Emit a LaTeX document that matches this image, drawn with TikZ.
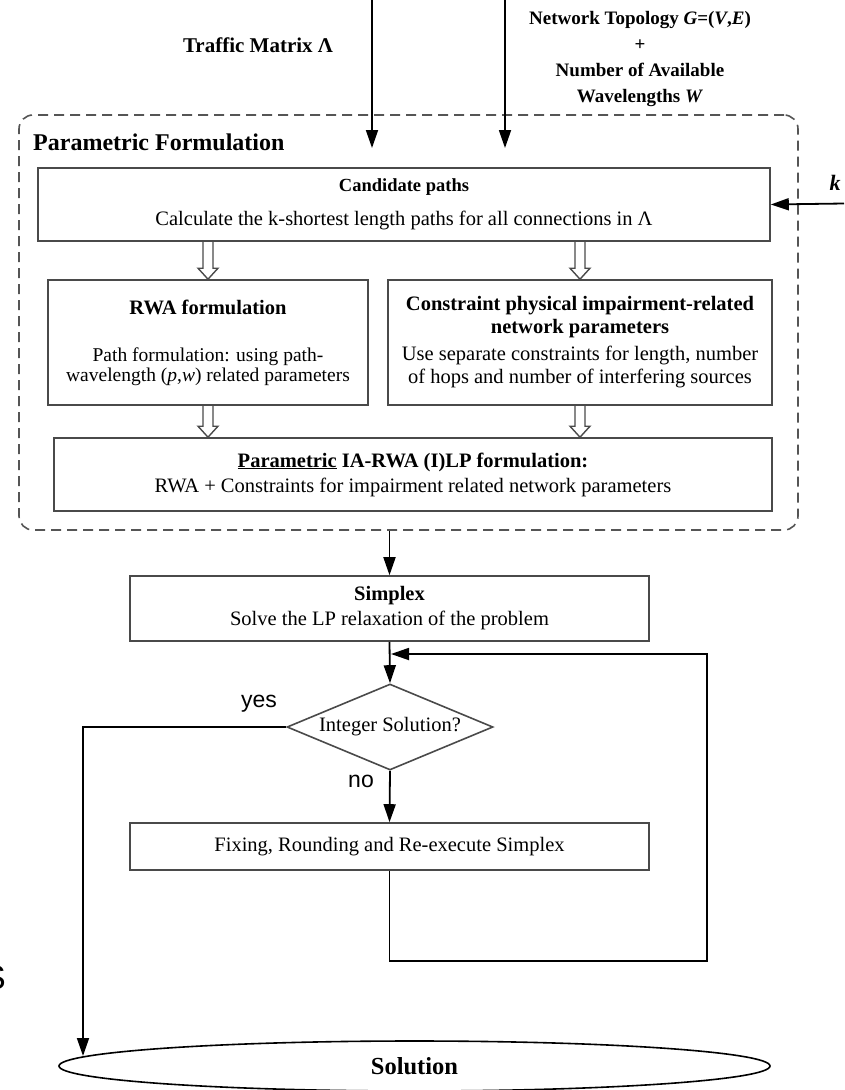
\documentclass[tikz,border=0pt]{standalone}
\usepackage{fontspec}
\setmainfont{Liberation Serif}
\newfontfamily\sansf{Liberation Sans}
\usetikzlibrary{arrows.meta,shapes.geometric,calc}
\definecolor{boxgray}{HTML}{4A4A4A}
\definecolor{dashgray}{HTML}{555555}
\begin{document}
\begin{tikzpicture}[x=1pt,y=-1pt,
  box/.style={draw=boxgray, line width=1.6pt, inner sep=0pt, align=center,
    font=\fontsize{20.5}{23}\selectfont},
  arr/.style={draw=black, line width=1.8pt, -{Triangle[length=18pt,width=12pt]}},
  hollow/.style={draw=boxgray, line width=1.4pt,
    to path={let \p1=(\tikztostart), \p2=(\tikztotarget) in
      (\x1-5pt,\y1) -- (\x1-5pt,\y2+11pt) -- (\x1-10pt,\y2+11pt) -- (\x1,\y2)
      -- (\x1+10pt,\y2+11pt) -- (\x1+5pt,\y2+11pt) -- (\x1+5pt,\y1)}},
  txt/.style={inner sep=0pt, align=center},
  lbl/.style={inner sep=0pt, font=\sansf\fontsize{23}{25}\selectfont}
]
\useasboundingbox (0,0) rectangle (844,1090);

% top inputs
\node[txt, font=\bfseries\fontsize{21}{23}\selectfont] (traffic) at (258,45) {Traffic Matrix Λ};
\node[txt, font=\bfseries\fontsize{19}{26}\selectfont] (net) at (640,59)
  {Network Topology \textit{G}=(\textit{V},\textit{E})\\+\\Number of Available\\Wavelengths \textit{W}};
\coordinate (t1a) at (372,0);
\coordinate (t1b) at (372,148);
\coordinate (t2a) at (505,0);
\coordinate (t2b) at (505,148);

% dashed frame
\node[draw=dashgray, line width=1.6pt, dash pattern=on 10pt off 6pt, rounded corners=14pt,
  minimum width=779pt, minimum height=415pt, inner sep=0pt] (pf) at (408.5,322.5) {};
\node[txt, anchor=west, font=\bfseries\fontsize{24}{26}\selectfont] (pftitle) at (33,142) {Parametric Formulation};

% boxes inside frame
\node[box, minimum width=732pt, minimum height=73pt] (cand) at (404,204.5)
  {\textbf{\fontsize{18.5}{22}\selectfont Candidate paths}\\[11pt]Calculate the k-shortest length paths for all connections in Λ};
\node[box, minimum width=320pt, minimum height=125pt] (rwa) at (208,342.5)
  {\textbf{RWA formulation}\\[24pt]{\fontsize{19.5}{20}\selectfont Path formulation: using path-}\\[-3pt]{\fontsize{19.5}{20}\selectfont wavelength (\textit{p},\textit{w}) related parameters}};
\node[box, minimum width=384pt, minimum height=125pt] (cons) at (580,342.5)
  {\textbf{Constraint physical impairment-related}\\\textbf{network parameters}\\[4pt]Use separate constraints for length, number\\of hops and number of interfering sources};
\node[box, minimum width=718pt, minimum height=73pt] (ia) at (413,474.5)
  {\textbf{\underline{Parametric} IA-RWA (I)LP formulation:}\\[2pt]RWA + Constraints for impairment related network parameters};

% k input
\coordinate (kin) at (844,203.5);
\node[txt, font=\bfseries\itshape\fontsize{22}{24}\selectfont] (klbl) at (835,183) {k};

% lower flow
\node[box, minimum width=519pt, minimum height=65pt] (simplex) at (389.5,608.5)
  {\textbf{Simplex}\\[2pt]Solve the LP relaxation of the problem};
\node[draw=boxgray, line width=1.6pt, shape=diamond, aspect=2.4, minimum width=206pt,
  minimum height=86pt, inner sep=0pt, font=\fontsize{20.5}{22}\selectfont] (dia) at (390,727) {Integer Solution?};
\node[box, minimum width=519pt, minimum height=47pt] (fix) at (389.5,846.5)
  {Fixing, Rounding and Re-execute Simplex};
\node[draw=black, line width=1.6pt, shape=ellipse, minimum width=711pt, minimum height=50pt,
  inner sep=0pt, font=\bfseries\fontsize{24.5}{26}\selectfont] (sol) at (414.5,1066) {Solution};

\node[lbl] (yes) at (259,704) {yes};
\node[lbl] (no) at (361,781) {no};
\node[inner sep=0pt, anchor=east, font=\sansf\fontsize{34}{36}\selectfont] (frag) at (6,978) {S};

\coordinate (yc) at (83,727);
\coordinate (yend) at (83,1056);
\coordinate (lp1) at (707,961);
\coordinate (lpend) at (391,654);

% connectors
\draw[arr] (t1a) -- (t1b);
\draw[arr] (t2a) -- (t2b);
\draw[arr] (kin) -- (cand.east);
\coordinate (h1) at (rwa.north |- cand.south);
\coordinate (h2) at (cons.north |- cand.south);
\coordinate (h3) at (ia.north -| rwa.south);
\coordinate (h4) at (ia.north -| cons.south);
\draw[hollow] (h1) to (rwa.north);
\draw[hollow] (h2) to (cons.north);
\draw[hollow] (rwa.south) to (h3);
\draw[hollow] (cons.south) to (h4);
\draw[arr] (simplex.north |- pf.south) -- (simplex.north);
\draw[arr] (simplex.south) -- (dia.north);
\draw[arr] (dia.south) -- (fix.north);
\draw[arr] (dia.west) -- (yc) -- (yend);
\draw[arr] (fix.south) |- (lp1) |- (lpend);
\end{tikzpicture}
\end{document}
